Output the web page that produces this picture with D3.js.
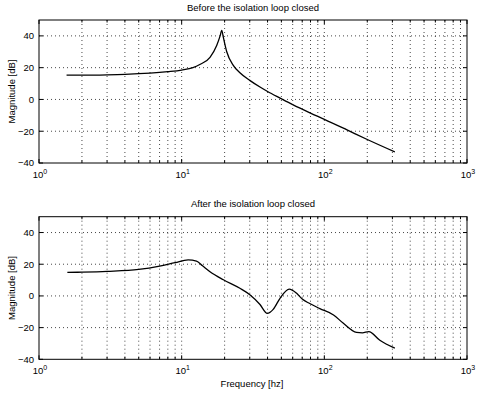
<!DOCTYPE html>
<html><head><meta charset="utf-8">
<script src="https://cdn.jsdelivr.net/npm/d3@7"></script>
<style>
body{margin:0;background:#fff}
svg text{font-family:"Liberation Sans",Arial,Helvetica,sans-serif;fill:#000}
</style>
</head><body>
<svg id="c" width="479" height="393"></svg>
<script>
// ---- data ----
const freqBefore = [1.56, 2, 3, 4, 5, 6, 8, 10, 12, 13.4, 15.8, 17.6, 18.6, 19.1, 19.6, 20.7, 23, 25.6, 30, 35.4, 40, 49, 60, 80, 100, 143, 200, 312];
const magBefore  = [15.3, 15.3, 15.5, 15.8, 16.2, 16.6, 17.5, 18.5, 20, 22, 26.5, 34, 40, 43.5, 39, 30, 21.5, 16.8, 12, 7.8, 5, 0.8, -3.3, -8.6, -12.5, -19, -25.2, -33];

const freqAfter = [1.58, 2, 3, 5, 7, 9, 11.1, 12.7, 14, 15.8, 19.6, 25.6, 30.2, 35.4, 39.8, 43.8, 48.9, 56.7, 63.7, 70, 79, 93, 116, 136, 168, 185, 205, 245, 312];
const magAfter  = [14.8, 15, 15.5, 16.7, 18.8, 21, 22.7, 22, 19, 15.3, 10.2, 4.8, 0.6, -5.4, -11, -8.5, -1.5, 4.3, 1.8, -2, -4.8, -8, -12, -17.3, -23, -23.3, -22.5, -28, -33];

const panelTitles = ["Before the isolation loop closed", "After the isolation loop closed"];
const yTicks = [-40, -20, 0, 20, 40];
const xDecades = [0, 1, 2, 3];
const yLabel = "Magnitude [dB]";
const xLabel = "Frequency [hz]";

// ---- drawing ----
const svg = d3.select("#c");
const left = 39, right = 467;
const panels = [
  {top: 20, bottom: 163, titleY: 11, freq: freqBefore, mag: magBefore, xlabel: false},
  {top: 216.7, bottom: 359.3, titleY: 207, freq: freqAfter, mag: magAfter, xlabel: true}
];

const majors = xDecades.map(d => Math.pow(10, d));
const minors = [];
for (let d = 0; d < 3; d++) for (let k = 2; k <= 9; k++) minors.push(k * Math.pow(10, d));
const allX = majors.concat(minors);

panels.forEach((p, i) => {
  const x = d3.scaleLog().domain([1, 1000]).range([left, right]);
  const y = d3.scaleLinear().domain([-40, 50]).range([p.bottom, p.top]);
  const g = svg.append("g");

  // grid
  const gridX = allX.filter(v => v > 1 && v < 1000);
  g.selectAll(".gx").data(gridX).enter().append("line")
    .attr("x1", d => x(d)).attr("x2", d => x(d))
    .attr("y1", p.top).attr("y2", p.bottom)
    .attr("stroke", "#333").attr("stroke-width", 0.9).attr("stroke-dasharray", "1,3");
  const gridY = yTicks.filter(v => v > -40);
  g.selectAll(".gy").data(gridY).enter().append("line")
    .attr("x1", left).attr("x2", right)
    .attr("y1", d => y(d)).attr("y2", d => y(d))
    .attr("stroke", "#333").attr("stroke-width", 0.9).attr("stroke-dasharray", "1,3");

  // inner ticks
  allX.forEach(v => {
    const len = majors.includes(v) ? 4 : 2.5;
    g.append("line").attr("x1", x(v)).attr("x2", x(v)).attr("y1", p.bottom).attr("y2", p.bottom - len).attr("stroke", "#000");
    g.append("line").attr("x1", x(v)).attr("x2", x(v)).attr("y1", p.top).attr("y2", p.top + len).attr("stroke", "#000");
  });
  yTicks.forEach(v => {
    g.append("line").attr("x1", left).attr("x2", left + 4).attr("y1", y(v)).attr("y2", y(v)).attr("stroke", "#000");
    g.append("line").attr("x1", right).attr("x2", right - 4).attr("y1", y(v)).attr("y2", y(v)).attr("stroke", "#000");
  });

  // frame
  g.append("rect").attr("x", left).attr("y", p.top).attr("width", right - left).attr("height", p.bottom - p.top)
    .attr("fill", "none").attr("stroke", "#000").attr("stroke-width", 1);

  // curve
  const pts = p.freq.map((f, j) => [f, p.mag[j]]);
  g.append("path").datum(pts)
    .attr("d", d3.line().x(d => x(d[0])).y(d => y(d[1])).curve(d3.curveMonotoneX))
    .attr("fill", "none").attr("stroke", "#000").attr("stroke-width", 1.3);

  // y tick labels
  g.selectAll(".yl").data(yTicks).enter().append("text")
    .attr("x", left - 5).attr("y", d => y(d) + 3.3)
    .attr("text-anchor", "end").attr("font-size", 9.5)
    .text(d => d < 0 ? "\u2212" + Math.abs(d) : d);

  // x tick labels 10^n
  xDecades.forEach(dd => {
    const t = g.append("text").attr("x", x(Math.pow(10, dd)) + 1).attr("y", p.bottom + 15)
      .attr("text-anchor", "middle").attr("font-size", 9.5);
    t.append("tspan").text("10");
    t.append("tspan").attr("dy", -4).attr("font-size", 7).text(dd);
  });

  // title
  g.append("text").attr("x", 253).attr("y", p.titleY).attr("text-anchor", "middle")
    .attr("font-size", 9.5).text(panelTitles[i]);

  // y label
  g.append("text").attr("transform", `translate(15,${(p.top + p.bottom) / 2}) rotate(-90)`)
    .attr("text-anchor", "middle").attr("font-size", 9.5).text(yLabel);

  if (p.xlabel) {
    g.append("text").attr("x", 252).attr("y", 387).attr("text-anchor", "middle")
      .attr("font-size", 9.5).text(xLabel);
  }
});
</script>
</body></html>
